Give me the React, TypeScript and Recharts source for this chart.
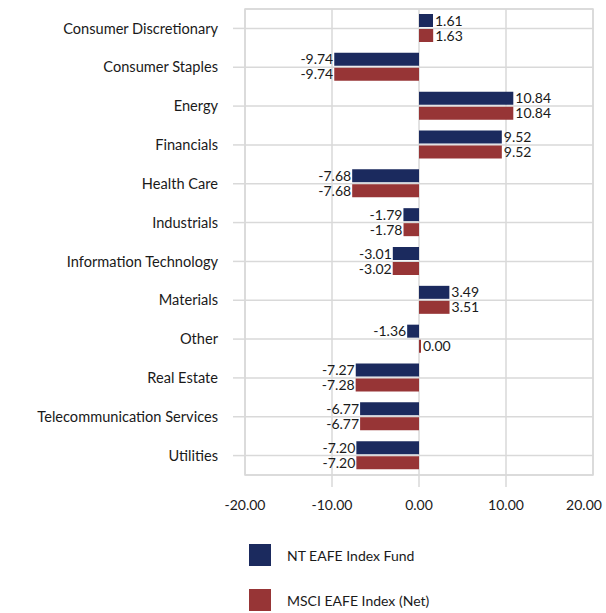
import React from "react";
import {
  BarChart, Bar, XAxis, YAxis, CartesianGrid, Legend, LabelList, ReferenceArea,
} from "recharts";

const sectors = [
  "Consumer Discretionary",
  "Consumer Staples",
  "Energy",
  "Financials",
  "Health Care",
  "Industrials",
  "Information Technology",
  "Materials",
  "Other",
  "Real Estate",
  "Telecommunication Services",
  "Utilities",
];
const fundValues = [1.61, -9.74, 10.84, 9.52, -7.68, -1.79, -3.01, 3.49, -1.36, -7.27, -6.77, -7.2];
const indexValues = [1.63, -9.74, 10.84, 9.52, -7.68, -1.78, -3.02, 3.51, 0.0, -7.28, -6.77, -7.2];
const xTicks = [-20, -10, 0, 10, 20];
const seriesOrder = ["fund", "index"];

const FONT = "Lato, 'Open Sans', sans-serif";
const NAVY = "#1b2a5e";
const RED = "#973536";
const GRID = "#d9d9d9";
const TEXT = "#1a1a1a";

const data = sectors.map((name, i) => ({ name, fund: fundValues[i], index: indexValues[i] }));

function BarValue(props: any) {
  const vb = props.viewBox ?? props;
  const x = Number(vb.x), w = Number(vb.width), y = Number(vb.y), h = Number(vb.height);
  const v = Number(props.value);
  const left = Math.min(x, x + w);
  const right = Math.max(x, x + w);
  const neg = v < 0;
  return (
    <text
      x={neg ? left - 1 : right + 2}
      y={y + h / 2}
      dy="0.36em"
      textAnchor={neg ? "end" : "start"}
      fontSize={14}
      fontFamily={FONT}
      fill={TEXT}
    >
      {v.toFixed(2)}
    </text>
  );
}

function XTick({ x, y, payload }: any) {
  const v = payload.value;
  const inner = v !== xTicks[0] && v !== xTicks[xTicks.length - 1];
  // keep the last label inside the picture, as the original does
  const tx = Math.min(x, 606 - 22);
  return (
    <g>
      {inner && <line x1={x} x2={x} y1={y - 25} y2={y - 13} stroke={GRID} strokeWidth={1.5} />}
      <text x={tx} y={y} dy="0.71em" textAnchor="middle" fontSize={14} fontFamily={FONT} fill={TEXT}>
        {v.toFixed(2)}
      </text>
    </g>
  );
}

function LegendBox({ payload }: any) {
  const items = [...(payload || [])].sort(
    (a: any, b: any) => seriesOrder.indexOf(a.dataKey) - seriesOrder.indexOf(b.dataKey)
  );
  return (
    <div style={{ fontFamily: FONT, fontSize: 14, color: TEXT }}>
      {items.map((p: any) => (
        <div key={p.value} style={{ display: "flex", alignItems: "center", height: 22, marginBottom: 23 }}>
          <div style={{ width: 22, height: 22, background: p.color, marginRight: 16 }} />
          <span>{p.value}</span>
        </div>
      ))}
    </div>
  );
}

export default function App() {
  return (
    <div style={{ position: "absolute", left: 0, top: 0, width: 606, height: 613, background: "#fff" }}>
      <BarChart
        width={606}
        height={613}
        data={data}
        layout="vertical"
        margin={{ top: 9, right: 13, bottom: 98, left: 0 }}
        barSize={13}
        barGap={2}
      >
        <CartesianGrid stroke={GRID} strokeWidth={1.5} />
        <ReferenceArea
          x1={-20}
          x2={20}
          y1={sectors[0]}
          y2={sectors[sectors.length - 1]}
          fill="none"
          stroke={GRID}
          strokeWidth={1.5}
          fillOpacity={0}
        />
        <XAxis
          type="number"
          domain={[-20, 20]}
          ticks={xTicks}
          height={40}
          axisLine={false}
          tickLine={false}
          tickSize={12}
          tickMargin={13}
          tick={<XTick />}
          interval={0}
        />
        <YAxis
          type="category"
          dataKey="name"
          width={245}
          axisLine={false}
          tickLine={{ stroke: GRID, strokeWidth: 1.5 }}
          tickSize={12}
          tickMargin={15}
          interval={0}
          tick={{ fontSize: 14.6, fontFamily: FONT, fill: TEXT }}
        />
        <Legend
          layout="vertical"
          align="center"
          verticalAlign="middle"
          wrapperStyle={{ left: 249, top: 544, width: 300 }}
          content={<LegendBox />}
        />
        <Bar dataKey="fund" name="NT EAFE Index Fund" fill={NAVY} isAnimationActive={false}>
          <LabelList dataKey="fund" content={<BarValue />} />
        </Bar>
        <Bar dataKey="index" name="MSCI EAFE Index (Net)" fill={RED} minPointSize={2} isAnimationActive={false}>
          <LabelList dataKey="index" content={<BarValue />} />
        </Bar>
      </BarChart>
    </div>
  );
}
